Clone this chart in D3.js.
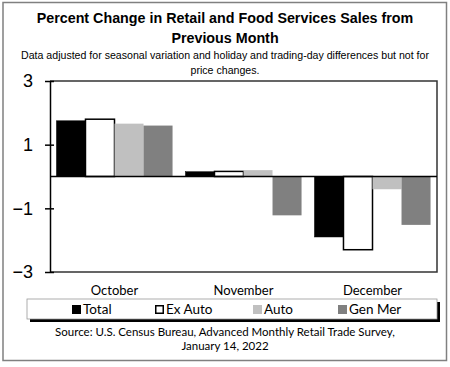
<!DOCTYPE html>
<html>
<head>
<meta charset="utf-8">
<script src="https://cdn.jsdelivr.net/npm/d3@7"></script>
<style>
  body { margin: 0; background: #fff; }
  svg { display: block; }
</style>
</head>
<body>
<div id="chart"></div>
<script>
// categories and series
const months = ['October', 'November', 'December'];
const seriesNames = ['Total', 'Ex Auto', 'Auto', 'Gen Mer'];
const total = [1.75, 0.15, -1.9];
const exAuto = [1.8, 0.16, -2.3];
const auto = [1.66, 0.2, -0.4];
const genMer = [1.6, -1.22, -1.52];
const yTicks = [3, 1, -1, -3];

const values = [total, exAuto, auto, genMer];
const fills = ['#000000', '#ffffff', '#c0c0c0', '#808080'];

const W = 450, H = 367;
const margin = { top: 81, right: 13, bottom: 95, left: 50 };
const width = W - margin.left - margin.right;
const height = H - margin.top - margin.bottom;

const svg = d3.select('#chart').append('svg')
  .attr('width', W)
  .attr('height', H);

// outer frame
svg.append('rect')
  .attr('x', 3).attr('y', 2.5)
  .attr('width', 443.5).attr('height', 358)
  .attr('fill', 'none')
  .attr('stroke', '#808080')
  .attr('stroke-width', 1.5);

// title
svg.append('text')
  .attr('x', W / 2).attr('y', 23)
  .attr('text-anchor', 'middle')
  .style('font', 'bold 14.3px "Liberation Sans", Arial, sans-serif')
  .text('Percent Change in Retail and Food Services Sales from');
svg.append('text')
  .attr('x', W / 2).attr('y', 43)
  .attr('text-anchor', 'middle')
  .style('font', 'bold 14.3px "Liberation Sans", Arial, sans-serif')
  .text('Previous Month');
svg.append('text')
  .attr('x', W / 2).attr('y', 59)
  .attr('text-anchor', 'middle')
  .style('font', '10.6px "Liberation Sans", Arial, sans-serif')
  .text('Data adjusted for seasonal variation and holiday and trading-day differences but not for');
svg.append('text')
  .attr('x', W / 2).attr('y', 74)
  .attr('text-anchor', 'middle')
  .style('font', '10.6px "Liberation Sans", Arial, sans-serif')
  .text('price changes.');

const g = svg.append('g')
  .attr('transform', `translate(${margin.left},${margin.top})`);

const x0 = d3.scaleBand().domain(months).range([0, width])
  .paddingInner(0.1).paddingOuter(0.05);
const x1 = d3.scaleBand().domain(seriesNames).range([0, x0.bandwidth()]);
const y = d3.scaleLinear().domain([-3, 3]).range([height, 0]);

// plot border (top, right, bottom)
g.append('path')
  .attr('d', `M0,0H${width}V${height}H0`)
  .attr('fill', 'none')
  .attr('stroke', '#333')
  .attr('stroke-width', 1.5);

// bars
seriesNames.forEach((name, si) => {
  g.selectAll(null)
    .data(months.map((m, i) => ({ m, v: values[si][i] })))
    .enter().append('rect')
    .attr('x', d => x0(d.m) + x1(name))
    .attr('y', d => y(Math.max(0, d.v)))
    .attr('width', x1.bandwidth())
    .attr('height', d => Math.abs(y(d.v) - y(0)))
    .attr('fill', fills[si])
    .attr('stroke', si < 2 ? '#000' : 'none')
    .attr('stroke-width', si === 1 ? 1.5 : 0.5);
});

// zero line
g.append('line')
  .attr('x1', 0).attr('x2', width)
  .attr('y1', y(0)).attr('y2', y(0))
  .attr('stroke', '#000')
  .attr('stroke-width', 1.5);

// y axis
const yAxis = g.append('g')
  .call(d3.axisLeft(y).tickValues(yTicks).tickFormat(d3.format('d'))
    .tickSize(5).tickSizeOuter(0).tickPadding(12));
yAxis.select('.domain').attr('stroke', '#000').attr('stroke-width', 1.5);
yAxis.selectAll('.tick line').attr('x2', 4).attr('x1', -5)
  .attr('stroke', '#000').attr('stroke-width', 1.5);
yAxis.selectAll('.tick text')
  .style('font', '18px "Liberation Sans", Arial, sans-serif')
  .attr('fill', '#000');

// month labels
g.selectAll('.month')
  .data(months)
  .enter().append('text')
  .attr('x', d => x0(d) + x0.bandwidth() / 2)
  .attr('y', height + 23)
  .attr('text-anchor', 'middle')
  .style('font', '13px Lato, "Open Sans", sans-serif')
  .text(d => d);

// legend
const lg = svg.append('g');
lg.append('rect')
  .attr('x', 30).attr('y', 302).attr('width', 410).attr('height', 20)
  .attr('fill', '#000');
lg.append('rect')
  .attr('x', 27).attr('y', 299).attr('width', 410).attr('height', 20)
  .attr('fill', '#fff').attr('stroke', '#999').attr('stroke-width', 0.8);

const legendX = [72, 155, 253, 338];
seriesNames.forEach((name, si) => {
  lg.append('rect')
    .attr('x', legendX[si] + (si === 1 ? 0.75 : 0)).attr('y', 305 + (si === 1 ? 0.75 : 0))
    .attr('width', si === 1 ? 7.5 : 9).attr('height', si === 1 ? 7.5 : 9)
    .attr('fill', fills[si])
    .attr('stroke', si === 1 ? '#000' : 'none')
    .attr('stroke-width', 1.5);
  lg.append('text')
    .attr('x', legendX[si] + 11).attr('y', 314)
    .style('font', '13.5px Lato, "Open Sans", sans-serif')
    .text(name);
});

// source
svg.append('text')
  .attr('x', W / 2).attr('y', 336)
  .attr('text-anchor', 'middle')
  .style('font', '11.5px Lato, "Open Sans", sans-serif')
  .text('Source: U.S. Census Bureau, Advanced Monthly Retail Trade Survey,');
svg.append('text')
  .attr('x', W / 2).attr('y', 350)
  .attr('text-anchor', 'middle')
  .style('font', '11.5px Lato, "Open Sans", sans-serif')
  .text('January 14, 2022');
</script>
</body>
</html>
